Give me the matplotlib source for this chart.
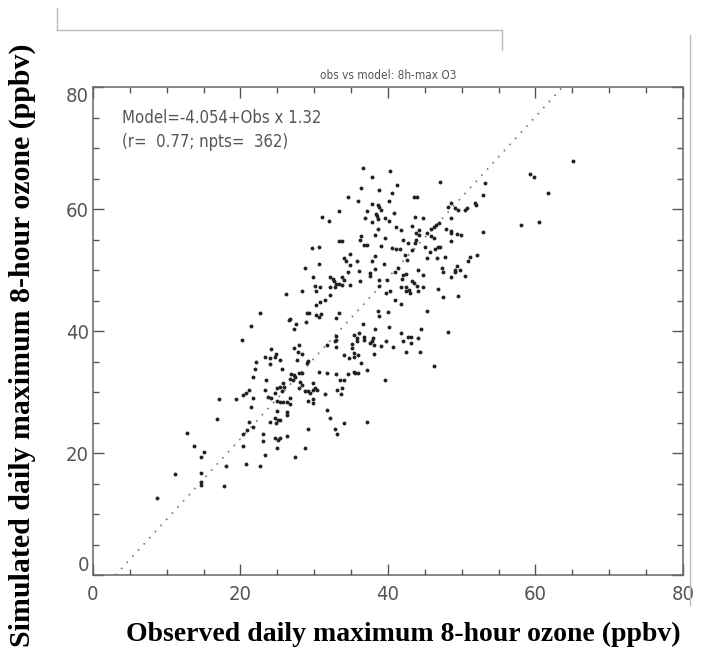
import numpy as np
import matplotlib.pyplot as plt
from matplotlib.lines import Line2D

# observed vs simulated daily max 8h ozone (ppbv)
obs = [26.2, 22.7, 21.4, 26.6,
       36.6, 40.3, 37.8, 41.2, 36.3, 38.8, 40.5, 34.6, 43.5, 43.9, 36.0, 40.1, 37.8, 38.6, 38.8, 39.0,
       37.2, 33.3, 40.8, 38.4, 38.5, 38.7, 31.0, 32.0, 36.9, 39.6, 40.2, 43.7, 44.8, 37.9, 41.1, 41.8,
       38.7, 43.3, 44.2, 46.5, 46.9, 45.8, 46.2, 45.3, 45.8, 36.4, 33.3, 33.7, 38.3, 39.6, 43.8, 44.2,
       36.2, 42.1, 46.3, 43.8, 43.6, 36.8, 37.2, 42.7, 29.7, 30.7, 39.0, 40.5, 41.1, 41.6, 45.0, 43.2,
       46.4, 46.8, 45.7, 34.9, 34.0, 34.3, 38.3, 35.8, 37.8, 42.3, 42.6, 45.3, 46.6, 30.6, 34.8, 39.4,
       41.4, 28.8, 38.3, 36.1, 41.0, 37.5, 37.5, 44.1, 33.7, 34.0, 32.1, 32.5, 32.7, 29.8, 34.6, 38.8,
       42.1, 42.4, 41.9, 44.8, 43.2, 36.2, 39.9, 32.9, 33.4, 33.7, 30.1, 30.8, 32.1, 32.8, 34.8, 38.8,
       41.7, 42.4, 42.9, 43.5, 43.9, 44.7, 28.3, 30.3, 39.7, 40.3, 42.5, 43.0, 44.1, 32.1, 46.8, 31.4,
       30.8, 30.2, 41.0, 41.7, 29.0, 29.3, 30.2, 30.9, 33.4, 38.7, 38.8, 40.0, 45.3, 33.0, 30.6, 28.9,
       27.5, 26.7, 27.2, 38.2, 40.2, 44.5, 36.6,
       65.1, 59.3, 59.8, 61.7, 47.1, 53.2, 52.9, 48.6, 48.2, 49.1, 49.5, 51.8, 52.0, 50.4, 50.7, 48.6,
       58.0, 60.5, 47.9, 48.6, 48.6, 49.4, 49.9, 52.9, 48.6, 47.1, 47.7, 50.8, 51.1, 52.1, 47.3, 47.5,
       49.1, 49.4, 49.7, 49.1, 48.5, 50.4, 47.4, 49.5,
       20.2, 24.2, 24.8, 24.7, 23.3, 24.0, 25.3, 22.1, 24.0, 22.0, 25.6, 21.7, 23.5, 25.7, 25.9, 25.4,
       23.3, 21.1, 20.7, 20.4, 24.7, 25.6, 24.9, 21.7, 19.4, 17.1, 23.8, 24.1, 24.9, 25.4, 25.8, 26.3,
       21.4, 25.0, 26.3, 26.3, 16.8, 21.1, 21.7, 20.9, 24.0, 24.7, 25.1, 24.8, 25.4, 20.4, 12.7, 23.1,
       23.1, 24.7, 25.1, 25.4, 26.3, 25.0, 20.4, 13.7, 15.0, 14.7, 23.3, 20.7, 22.7, 18.1, 11.1, 14.7,
       14.7, 14.6, 17.7, 8.7,
       27.2, 28.0, 27.8, 28.3, 27.7, 29.1, 29.0, 26.9, 27.2, 27.4, 26.7, 27.1, 28.0, 28.4, 28.1, 28.4,
       26.7, 26.7, 28.0, 28.7, 29.1, 29.4, 29.8, 30.1, 30.4, 29.8, 29.1, 29.8, 29.8, 30.7, 31.5, 31.8,
       33.0, 33.5, 34.0, 33.1, 33.7, 33.6, 31.7, 32.1, 32.8, 33.1, 34.0, 29.1, 28.7, 27.4, 34.6, 35.4,
       35.5, 36.0, 37.1, 34.0, 34.7, 35.4, 35.4, 36.0, 36.4, 35.1, 35.1, 35.4, 35.8, 35.8, 36.1, 33.0,
       33.0, 33.0, 32.8, 31.8, 36.8, 36.8, 37.5, 38.0, 37.8, 38.1, 38.1, 39.1, 39.7, 40.7, 41.7, 42.1,
       42.4, 42.7, 43.1, 43.1, 44.1, 44.3, 46.2, 39.6, 37.1,
       48.2]
sim = [46.1, 42.9, 40.9, 41.8,
       66.8, 66.3, 65.2, 63.9, 63.4, 63.2, 62.6, 61.9, 61.9, 61.9, 61.4, 61.4, 60.8, 60.7, 60.3, 59.9,
       59.7, 59.7, 59.3, 59.2, 58.8, 58.4, 58.7, 58.1, 58.6, 58.5, 58.1, 58.7, 58.5, 57.8, 57.1, 56.6,
       56.7, 57.2, 56.6, 57.4, 57.7, 56.8, 57.0, 56.0, 55.5, 55.6, 54.8, 54.8, 55.7, 55.2, 56.1, 55.7,
       54.9, 55.0, 55.2, 55.0, 54.4, 54.1, 54.1, 54.4, 53.6, 53.8, 53.9, 53.6, 53.4, 53.4, 53.7, 53.3,
       53.4, 53.7, 52.9, 52.6, 51.9, 51.5, 52.3, 51.5, 51.5, 52.4, 51.6, 51.9, 52.0, 51.0, 50.8, 51.0,
       50.4, 50.4, 50.1, 49.9, 49.7, 49.5, 49.0, 50.0, 48.8, 48.4, 48.8, 48.5, 48.2, 48.8, 49.7, 48.4,
       49.2, 49.3, 48.6, 49.2, 48.2, 48.2, 48.4, 47.7, 47.7, 47.5, 47.4, 47.3, 47.2, 47.3, 47.5, 47.4,
       47.3, 47.2, 46.8, 47.9, 47.4, 47.2, 46.6, 46.6, 46.3, 46.5, 46.6, 46.3, 46.5, 45.9, 46.9, 45.1,
       44.8, 44.3, 45.1, 44.4, 43.0, 42.9, 42.6, 42.8, 43.0, 43.3, 42.4, 43.2, 43.3, 42.2, 42.3, 41.4,
       41.2, 42.0, 40.4, 40.4, 40.7, 40.3, 41.2,
       67.9, 65.8, 65.2, 62.7, 64.5, 64.3, 62.3, 61.0, 60.4, 60.1, 59.8, 61.0, 60.7, 59.8, 60.2, 58.6,
       57.4, 57.9, 56.7, 56.4, 56.0, 55.9, 55.7, 56.3, 54.7, 53.8, 52.1, 51.4, 52.1, 52.5, 50.3, 49.7,
       50.0, 50.6, 50.0, 49.6, 48.9, 49.0, 45.5, 45.8,
       38.5, 37.0, 36.2, 35.8, 35.8, 35.5, 35.2, 35.0, 34.6, 33.7, 33.7, 32.4, 32.0, 31.5, 30.9, 30.8,
       30.4, 30.3, 29.8, 29.5, 29.9, 30.2, 30.6, 29.0, 28.8, 28.9, 29.2, 29.0, 28.6, 28.4, 28.4, 28.3,
       27.6, 26.9, 26.8, 26.2, 25.5, 25.1, 24.3, 23.8, 25.1, 25.7, 25.4, 25.0, 25.4, 23.2, 23.3, 23.1,
       21.9, 22.4, 22.1, 22.5, 22.8, 20.8, 21.1, 21.1, 20.2, 19.4, 19.7, 18.2, 17.9, 17.8, 16.6, 16.8,
       15.2, 14.8, 14.6, 12.6,
       37.3, 37.7, 36.6, 36.2, 35.2, 35.1, 34.7, 33.0, 32.8, 32.5, 32.2, 31.9, 33.2, 33.1, 31.7, 31.1,
       29.0, 28.0, 30.6, 30.2, 30.1, 29.8, 30.4, 30.6, 30.3, 31.5, 28.6, 28.8, 28.2, 33.3, 29.7, 33.1,
       33.0, 32.0, 31.9, 30.4, 30.6, 29.7, 27.1, 25.8, 24.0, 23.2, 24.9, 23.9, 20.8, 19.4, 33.0, 33.3,
       33.1, 33.1, 33.6, 36.1, 35.5, 35.8, 36.4, 36.1, 34.8, 37.9, 37.3, 39.3, 38.9, 38.4, 39.7, 39.2,
       38.5, 37.4, 38.3, 37.7, 39.1, 38.5, 38.0, 38.8, 38.3, 37.7, 36.3, 37.5, 38.4, 37.4, 39.6, 38.4,
       36.6, 39.1, 39.1, 38.0, 38.8, 36.6, 34.3, 31.9, 25.1,
       39.9]

intercept = -4.054
slope = 1.32
r_val = 0.77
npts = 362

ticks = [0, 20, 40, 60, 80]
gray = '#555555'

fig = plt.figure(figsize=(7.19, 6.66), dpi=100)
ax = fig.add_axes([0.1293, 0.1366, 0.8206, 0.7327])

xs = np.linspace(0, 80, 200)
ax.plot(xs, intercept + slope*xs, color='#777777', linestyle=(0, (1, 4)), linewidth=1.2)
ax.plot(obs, sim, 'o', color='#222222', markersize=2.8, markeredgewidth=0)

ax.set_xlim(0, 80)
ax.set_ylim(0, 80)
ax.set_xticks(ticks)
ax.set_yticks(ticks)
ax.set_xticks(np.arange(0, 81, 5), minor=True)
ax.set_yticks(np.arange(0, 81, 5), minor=True)
ax.tick_params(which='both', direction='in', top=True, right=True, color=gray, width=1)
ax.tick_params(which='major', length=8)
ax.tick_params(which='minor', length=4)
ax.tick_params(axis='x', pad=7)
ax.tick_params(axis='y', pad=3)
for lab in ax.get_xticklabels() + ax.get_yticklabels():
    lab.set_family('DejaVu Sans')
    lab.set_stretch('condensed')
    lab.set_fontsize(14.5)
    lab.set_color(gray)
ylabs = ax.get_yticklabels()
ylabs[0].set_va('bottom')
ylabs[-1].set_va('top')
for s in ax.spines.values():
    s.set_color('#666666')
    s.set_linewidth(1.1)

ax.set_title('obs vs model: 8h-max O3', fontsize=8.5, color=gray, family='DejaVu Sans',
             stretch='condensed', pad=6)
ax.text(0.05, 0.955, 'Model=%.3f+Obs x %.2f' % (intercept, slope), transform=ax.transAxes,
        fontsize=12, color=gray, family='DejaVu Sans', stretch='condensed', va='top')
ax.text(0.05, 0.905, '(r=  %.2f; npts=  %d)' % (r_val, npts), transform=ax.transAxes,
        fontsize=12, color=gray, family='DejaVu Sans', stretch='condensed', va='top')

fig.text(0.561, 0.048, 'Observed daily maximum 8-hour ozone (ppbv)', ha='center', va='center',
         family='Liberation Serif', fontweight='bold', fontsize=20)
fig.text(0.031, 0.482, 'Simulated daily maximum 8-hour ozone (ppbv)', ha='center', va='center',
         rotation=90, family='Liberation Serif', fontweight='bold', fontsize=21.5)

# faint page frame lines from the original screenshot
fc = '#bbbbbb'
fig.add_artist(Line2D([57/719, 502/719], [1-30/666, 1-30/666], color=fc, lw=1))
fig.add_artist(Line2D([57/719, 57/719], [1-8/666, 1-30/666], color=fc, lw=1))
fig.add_artist(Line2D([502/719, 502/719], [1-30/666, 1-50/666], color=fc, lw=1))
fig.add_artist(Line2D([690/719, 690/719], [1-35/666, 1-605/666], color=fc, lw=1))

plt.savefig('out.png')
